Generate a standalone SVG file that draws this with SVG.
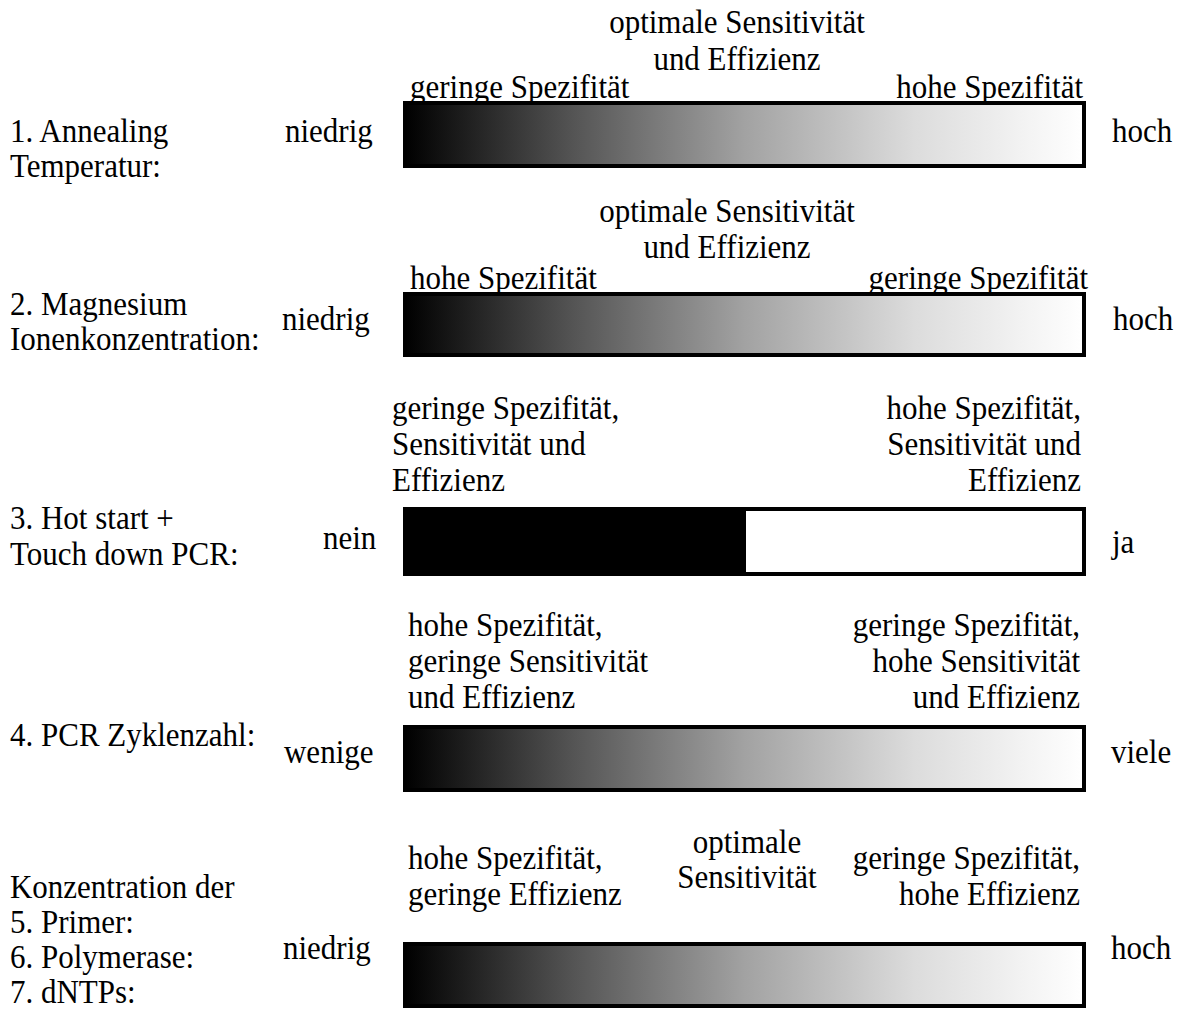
<svg xmlns="http://www.w3.org/2000/svg" width="1181" height="1017" viewBox="0 0 1181 1017">
  <style>
    text { font-family: "Liberation Serif", "Times New Roman", serif; font-size: 31px; fill: #000; }
    .mid { text-anchor: middle; }
    .end { text-anchor: end; }
    .bar { stroke: #000; stroke-width: 4; }
  </style>
  <defs>
    <linearGradient id="grey" x1="0" y1="0" x2="1" y2="0">
      <stop offset="0" stop-color="#000"/>
      <stop offset="0.25" stop-color="#555"/>
      <stop offset="0.5" stop-color="#a2a2a2"/>
      <stop offset="0.75" stop-color="#dcdcdc"/>
      <stop offset="1" stop-color="#fff"/>
    </linearGradient>
  </defs>
  <rect width="1181" height="1017" fill="#fff"/>

  <!-- labels use a slightly tall face: text groups are stretched 1.1x vertically, y values are baseline / 1.1 -->

  <!-- 1. Annealing temperature -->
  <g id="row-annealing">
    <rect class="bar" x="405" y="103" width="679" height="63" fill="url(#grey)"/>
    <g transform="scale(1,1.1)">
      <text x="10" y="129.09">1. Annealing</text>
      <text x="10" y="160.91">Temperatur:</text>
      <text x="285" y="129.09">niedrig</text>
      <text x="1112" y="129.09">hoch</text>
      <text class="mid" x="737" y="30">optimale Sensitivität</text>
      <text class="mid" x="737" y="63.64">und Effizienz</text>
      <text x="410" y="89.09">geringe Spezifität</text>
      <text class="end" x="1083" y="89.09">hohe Spezifität</text>
    </g>
  </g>

  <!-- 2. Magnesium ion concentration -->
  <g id="row-magnesium">
    <rect class="bar" x="405" y="294" width="679" height="61" fill="url(#grey)"/>
    <g transform="scale(1,1.1)">
      <text x="10" y="286.36">2. Magnesium</text>
      <text x="10" y="318.18">Ionenkonzentration:</text>
      <text x="282" y="300">niedrig</text>
      <text x="1113" y="300">hoch</text>
      <text class="mid" x="727" y="201.82">optimale Sensitivität</text>
      <text class="mid" x="727" y="234.55">und Effizienz</text>
      <text x="410" y="262.73">hohe Spezifität</text>
      <text class="end" x="1088" y="262.73">geringe Spezifität</text>
    </g>
  </g>

  <!-- 3. Hot start + touch down PCR -->
  <g id="row-hotstart">
    <rect class="bar" x="405" y="509" width="679" height="65" fill="#fff"/>
    <rect x="403" y="507" width="343" height="69" fill="#000"/>
    <g transform="scale(1,1.1)">
      <text x="10" y="480.91">3. Hot start +</text>
      <text x="10" y="513.64">Touch down PCR:</text>
      <text x="323" y="499.09">nein</text>
      <text x="1112" y="502.73">ja</text>
      <text x="392" y="380.91">geringe Spezifität,</text>
      <text x="392" y="413.64">Sensitivität und</text>
      <text x="392" y="446.36">Effizienz</text>
      <text class="end" x="1081" y="380.91">hohe Spezifität,</text>
      <text class="end" x="1081" y="413.64">Sensitivität und</text>
      <text class="end" x="1081" y="446.36">Effizienz</text>
    </g>
  </g>

  <!-- 4. PCR cycle number -->
  <g id="row-cycles">
    <rect class="bar" x="405" y="727" width="679" height="63" fill="url(#grey)"/>
    <g transform="scale(1,1.1)">
      <text x="10" y="678.18">4. PCR Zyklenzahl:</text>
      <text x="284" y="693.64">wenige</text>
      <text x="1111" y="693.64">viele</text>
      <text x="408" y="578.18">hohe Spezifität,</text>
      <text x="408" y="610.91">geringe Sensitivität</text>
      <text x="408" y="643.64">und Effizienz</text>
      <text class="end" x="1080" y="578.18">geringe Spezifität,</text>
      <text class="end" x="1080" y="610.91">hohe Sensitivität</text>
      <text class="end" x="1080" y="643.64">und Effizienz</text>
    </g>
  </g>

  <!-- 5.-7. Concentrations -->
  <g id="row-concentration">
    <rect class="bar" x="405" y="944" width="679" height="62" fill="url(#grey)"/>
    <g transform="scale(1,1.1)">
      <text x="10" y="816.36">Konzentration der</text>
      <text x="10" y="848.18">5. Primer:</text>
      <text x="10" y="880">6. Polymerase:</text>
      <text x="10" y="911.82">7. dNTPs:</text>
      <text x="283" y="871.82">niedrig</text>
      <text x="1111" y="871.82">hoch</text>
      <text x="408" y="790">hohe Spezifität,</text>
      <text x="408" y="822.73">geringe Effizienz</text>
      <text class="mid" x="747" y="775.45">optimale</text>
      <text class="mid" x="747" y="807.27">Sensitivität</text>
      <text class="end" x="1080" y="790">geringe Spezifität,</text>
      <text class="end" x="1080" y="822.73">hohe Effizienz</text>
    </g>
  </g>
</svg>
